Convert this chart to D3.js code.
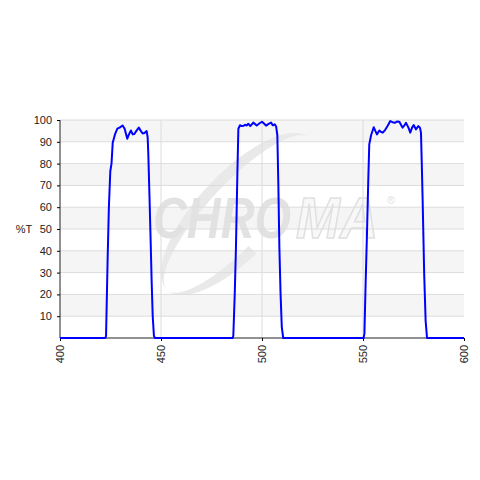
<!DOCTYPE html>
<html>
<head>
<meta charset="utf-8">
<script src="https://cdn.jsdelivr.net/npm/d3@7"></script>
<style>
    body { margin: 0; background: #fff; }
    text { font-family: "Liberation Sans", Arial, sans-serif; }
</style>
</head>
<body>
<script>
// wavelength (nm) and transmission (%T)
let wavelength = [400, 422.5, 422.8, 423.6, 424.2, 424.9, 425.5, 426.1, 427.2, 428.4, 429.5, 431, 432, 433.3, 434.2, 435.1, 436, 436.8, 437.8, 439, 440, 440.9, 441.8, 442.9, 443.4, 443.7, 444.3, 444.9, 445.4, 445.9, 446.5, 447,
    485.5, 485.8, 486.5, 487.1, 487.8, 488.3, 489.1, 490, 491, 491.6, 492.5, 493.2, 494.2, 495.7, 497.4, 498.8, 500, 501, 502, 503.3, 504.5, 505.3, 506.3, 507, 507.6, 508.1, 508.6, 509.2, 509.8, 510.5,
    550.3, 550.7, 551.3, 552, 552.6, 553.1, 554, 555.3, 556.1, 556.9, 558.1, 559, 559.8, 561, 562.3, 563.5, 564.6, 565.8, 566.8, 568, 569, 569.6, 570.5, 571.3, 572.5, 573.4, 574.3, 575.1, 576.2, 577.4, 578.2, 578.7, 579.1, 579.5, 580.3, 581, 581.7, 600];
let transmission = [0, 0, 1, 37, 60, 76.5, 80, 89.6, 93.4, 96, 96.5, 97.5, 96, 91.4, 93.5, 95.2, 93.4, 93.6, 95, 96.5, 95, 93.8, 94, 94.9, 92, 85, 65, 43.6, 25, 10, 1, 0,
    0, 1, 20, 41.3, 75, 96, 97.6, 97.2, 97.4, 97.8, 97.5, 98.3, 97.2, 98.8, 97.5, 98.5, 99.2, 98.4, 97.4, 98.2, 98.8, 97.6, 98, 97, 93, 70, 41.5, 20, 5, 0,
    0, 2, 25, 49, 72, 88.8, 93, 96.7, 95, 93.4, 95.2, 94.5, 94.2, 95.5, 97.5, 99.5, 99, 98.7, 99.3, 99.2, 97.5, 96.5, 97.5, 98.7, 96.5, 94.2, 96.5, 97.7, 95.7, 97.2, 96.5, 94.2, 80, 64.3, 29, 8, 0, 0];

let xTicks = [400, 450, 500, 550, 600];
let yTicks = [10, 20, 30, 40, 50, 60, 70, 80, 90, 100];
let yLabel = "%T";

let width = 480,
    height = 480,
    plotLeft = 60, plotRight = 464,
    plotTop = 120, plotBottom = 338;

let svg = d3.select("body")
    .append("svg")
    .attr("width", width)
    .attr("height", height);

let x = d3.scaleLinear().domain([400, 600]).range([plotLeft, plotRight]);
let y = d3.scaleLinear().domain([0, 100]).range([plotBottom, plotTop]);

// alternating background bands
let bands = yTicks.filter(function (d, i) { return i % 2 == 0; });
svg.selectAll("rect.band")
    .data(bands)
    .enter().append("rect")
    .attr("x", plotLeft)
    .attr("width", plotRight - plotLeft)
    .attr("y", function (d) { return y(d + 10); })
    .attr("height", function (d) { return y(d) - y(d + 10); })
    .attr("fill", "#f5f5f5");

// watermark (swoosh + logo)
let wm = svg.append("g").attr("class", "watermark");
let cx = 238, cy = 214, rx = 104, angle = -47 * Math.PI / 180;
let outer = [], inner = [];
for (let t = 0.55 * Math.PI; t <= 2.02 * Math.PI; t += 0.02) {
    let ex = rx * Math.cos(t), eyo = 41 * Math.sin(t), eyi = 30 * Math.sin(t);
    outer.push([cx + ex * Math.cos(angle) - eyo * Math.sin(angle), cy + ex * Math.sin(angle) + eyo * Math.cos(angle)]);
    inner.push([cx + ex * Math.cos(angle) - eyi * Math.sin(angle), cy + ex * Math.sin(angle) + eyi * Math.cos(angle)]);
}
wm.append("path")
    .attr("d", d3.line()(outer.concat(inner.reverse())) + "Z")
    .attr("fill", "#e9e9e9");

wm.append("text")
    .attr("transform", "translate(153,238) scale(1,1.24)")
    .attr("font-size", 47)
    .attr("font-weight", "bold")
    .attr("font-style", "italic")
    .attr("textLength", 138)
    .attr("lengthAdjust", "spacingAndGlyphs")
    .attr("fill", "#e2e2e2")
    .text("CHRO");
wm.append("text")
    .attr("transform", "translate(296,238) scale(1,1.24)")
    .attr("font-size", 47)
    .attr("font-weight", "bold")
    .attr("font-style", "italic")
    .attr("textLength", 82)
    .attr("lengthAdjust", "spacingAndGlyphs")
    .attr("fill", "#f8f8f8")
    .attr("stroke", "#e0e0e0")
    .attr("stroke-width", 1.3)
    .text("MA");
wm.append("text")
    .attr("x", 387)
    .attr("y", 204)
    .attr("font-size", 11)
    .attr("fill", "#e2e2e2")
    .text("®");

// gridlines
svg.selectAll("line.hgrid")
    .data(yTicks)
    .enter().append("line")
    .attr("x1", plotLeft).attr("x2", plotRight)
    .attr("y1", function (d) { return y(d); })
    .attr("y2", function (d) { return y(d); })
    .attr("stroke", "#dcdcdc");

svg.selectAll("line.vgrid")
    .data(xTicks.slice(1, -1))
    .enter().append("line")
    .attr("x1", function (d) { return x(d); })
    .attr("x2", function (d) { return x(d); })
    .attr("y1", plotTop).attr("y2", plotBottom)
    .attr("stroke", "#dcdcdc");

// axes
let yAxis = svg.append("g")
    .attr("transform", "translate(" + plotLeft + ",0)")
    .call(d3.axisLeft(y).tickValues(yTicks).tickSize(3).tickPadding(5));
let xAxis = svg.append("g")
    .attr("transform", "translate(0," + plotBottom + ")")
    .call(d3.axisBottom(x).tickValues(xTicks).tickSize(3));

yAxis.select(".domain").attr("d", "M0," + y(100) + "V" + y(0)).attr("stroke", "#222");
xAxis.select(".domain").attr("d", "M" + plotLeft + ",0H" + plotRight).attr("stroke", "#222");
yAxis.selectAll("text").attr("font-size", 11).attr("fill", "#222").attr("font-family", "Liberation Sans, Arial, sans-serif");
xAxis.selectAll("text")
    .attr("font-size", 11).attr("fill", "#222").attr("font-family", "Liberation Sans, Arial, sans-serif")
    .attr("text-anchor", "end")
    .attr("dy", "0.35em")
    .attr("x", -7).attr("y", 0)
    .attr("transform", "rotate(-90)");

svg.append("text")
    .attr("x", 24)
    .attr("y", y(50))
    .attr("dy", "0.35em")
    .attr("text-anchor", "middle")
    .attr("font-size", 11)
    .attr("fill", "#222")
    .text(yLabel);

// curve
let line = d3.line()
    .x(function (d) { return x(d[0]); })
    .y(function (d) { return y(d[1]); });

svg.append("path")
    .datum(d3.zip(wavelength, transmission))
    .attr("d", line)
    .attr("fill", "none")
    .attr("stroke", "#0000ff")
    .attr("stroke-width", 2)
    .attr("stroke-linejoin", "round");
</script>
</body>
</html>
